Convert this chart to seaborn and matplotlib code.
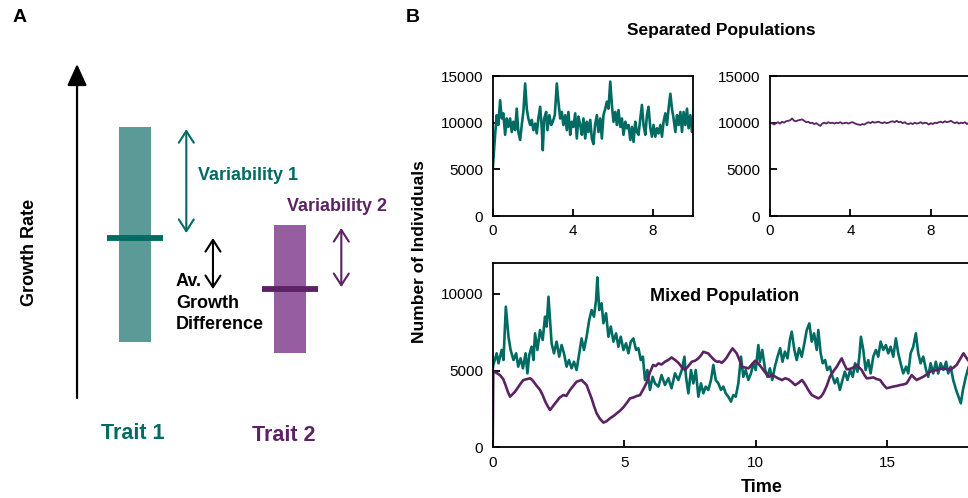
import matplotlib
matplotlib.use("Agg")
import matplotlib.pyplot as plt
import seaborn as sns
import pandas as pd

# colours
teal_line = "#006b63"
teal_bar = "#5a9b97"
purple_line = "#5b2264"
purple_bar = "#965da1"

# ---- panel A: schematic growth-rate distributions (arbitrary units 0-10)
trait_labels = ["Trait 1", "Trait 2"]
trait_mean = [4.79, 3.26]
trait_low = [1.68, 1.35]
trait_high = [8.11, 5.18]
var_top = [8.05, 5.09]
var_bottom = [4.94, 3.32]

# ---- panel B: separated populations (time, number of individuals)
tl_t = [0.0, 0.05, 0.12, 0.2, 0.28, 0.37, 0.45, 0.53, 0.62, 0.7, 0.78, 0.87, 0.95,
        1.03, 1.12, 1.2, 1.28, 1.37, 1.45, 1.53, 1.62, 1.7, 1.78, 1.87, 1.95,
        2.03, 2.12, 2.2, 2.28, 2.37, 2.45, 2.5, 2.57, 2.67, 2.73, 2.83, 2.92,
        3.0, 3.1, 3.2, 3.28, 3.37, 3.45, 3.53, 3.62, 3.7, 3.78, 3.87, 3.95,
        4.03, 4.12, 4.2, 4.28, 4.37, 4.45, 4.53, 4.62, 4.7, 4.78, 4.87, 4.95,
        5.03, 5.11, 5.2, 5.28, 5.37, 5.45, 5.53, 5.62, 5.7, 5.78, 5.87, 5.95,
        6.03, 6.12, 6.2, 6.28, 6.37, 6.45, 6.53, 6.62, 6.7, 6.78, 6.87, 6.95,
        7.03, 7.12, 7.2, 7.28, 7.37, 7.45, 7.53, 7.62, 7.7, 7.78, 7.87, 7.95,
        8.03, 8.12, 8.2, 8.28, 8.37, 8.45, 8.53, 8.62, 8.7, 8.78, 8.87, 8.95,
        9.03, 9.12, 9.2, 9.28, 9.37, 9.45, 9.53, 9.62, 9.7, 9.78, 9.87, 9.95, 10.0]
tl_n = [5000, 6500, 8700, 10800, 9750, 12400, 10450, 11000, 8700, 10450, 9550, 10450, 9000,
        10100, 9200, 11500, 9000, 8150, 9750, 11150, 14200, 11500, 10450, 9750, 10300,
        9200, 9900, 8850, 10450, 11700, 9400, 7050, 10450, 11150, 9200, 10800, 9750,
        10100, 10800, 14200, 12250, 10450, 11150, 9750, 10800, 9200, 11150, 8700, 10100,
        9550, 11000, 8300, 10650, 9750, 8700, 10450, 8300, 10100, 9000, 10300, 8300,
        7700, 9750, 10800, 9000, 10450, 8300, 10800, 11500, 12250, 11500, 14400, 11900,
        10100, 11150, 9750, 11350, 9550, 10450, 8700, 10100, 9400, 9750, 8150, 9550,
        7950, 10100, 9000, 8700, 10450, 11900, 9750, 8700, 10800, 11700, 9400, 8500,
        9750, 8500, 9400, 8850, 9750, 8500, 10100, 11000, 9750, 11500, 13100, 11500,
        10450, 9000, 10800, 9750, 11150, 9000, 11150, 9750, 11500, 9400, 10800, 9000, 9500]

tr_t = [i / 10 for i in range(101)]
tr_n = [9900, 9950, 9800, 9950, 10050, 9900, 10100, 10000, 10150, 10200,
        10250, 10450, 10200, 10150, 10250, 10300, 10350, 10200, 10050, 10100,
        9950, 10000, 9850, 9950, 9800, 9650, 9900, 10000, 9900, 10050,
        9950, 10000, 9900, 10000, 9950, 10050, 9900, 9950, 10000, 9900,
        10000, 10050, 9950, 9850, 9800, 9750, 9850, 9800, 9950, 10050,
        9950, 10100, 10000, 10050, 10100, 10000, 9950, 10050, 9950, 10000,
        10100, 10150, 10050, 10200, 10050, 10100, 9950, 10050, 9900, 9850,
        9950, 9850, 10000, 9900, 9950, 10050, 9900, 10000, 9950, 9800,
        9950, 9850, 10000, 9950, 10050, 10100, 10000, 10150, 10050, 10100,
        10200, 10050, 9950, 10050, 9900, 10000, 9950, 10050, 9850, 10000, 9900]

# ---- panel B: mixed population
bt_t = [0.0, 0.02, 0.08, 0.15, 0.22, 0.34, 0.41, 0.5, 0.6, 0.68, 0.79, 0.89, 0.97,
        1.06, 1.15, 1.25, 1.32, 1.39, 1.48, 1.55, 1.61, 1.7, 1.8, 1.9, 1.99,
        2.05, 2.12, 2.18, 2.24, 2.33, 2.43, 2.53, 2.62, 2.71, 2.81, 2.9, 3.0,
        3.09, 3.19, 3.29, 3.38, 3.47, 3.57, 3.67, 3.76, 3.85, 3.93, 3.98, 4.05,
        4.14, 4.21, 4.31, 4.4, 4.49, 4.59, 4.69, 4.78, 4.87, 4.97, 5.07, 5.16,
        5.25, 5.35, 5.45, 5.54, 5.63, 5.71, 5.79, 5.88, 5.98, 6.08, 6.17, 6.3,
        6.42, 6.55, 6.68, 6.8, 6.93, 7.06, 7.19, 7.29, 7.35, 7.44, 7.54, 7.63,
        7.72, 7.82, 7.92, 8.01, 8.1, 8.2, 8.3, 8.39, 8.48, 8.58, 8.68, 8.77,
        8.86, 8.96, 9.06, 9.15, 9.24, 9.34, 9.44, 9.53, 9.62, 9.72, 9.82, 9.91,
        10.0, 10.1, 10.16, 10.25, 10.36, 10.45, 10.54, 10.63, 10.73, 10.83, 10.93, 11.02,
        11.11, 11.21, 11.3, 11.37, 11.47, 11.56, 11.65, 11.75, 11.85, 11.94, 12.04, 12.13,
        12.22, 12.32, 12.38, 12.47, 12.55, 12.64, 12.72, 12.82, 12.92, 13.01, 13.1, 13.2,
        13.3, 13.39, 13.49, 13.59, 13.69, 13.78, 13.87, 13.94, 14.0, 14.09, 14.18, 14.28,
        14.37, 14.47, 14.57, 14.66, 14.75, 14.85, 14.95, 15.04, 15.13, 15.23, 15.33, 15.42,
        15.51, 15.61, 15.72, 15.8, 15.89, 15.99, 16.09, 16.18, 16.27, 16.37, 16.48, 16.56,
        16.65, 16.75, 16.85, 16.94, 17.03, 17.14, 17.24, 17.32, 17.41, 17.51, 17.62, 17.71,
        17.8, 17.88, 17.99, 18.1, 18.25]
bt_n = [5000, 5370, 5700, 6130, 5480, 6350, 5690, 9170, 7210, 6350, 5690, 6130, 5260,
        5800, 5150, 6130, 4820, 6020, 6560, 5690, 7430, 6350, 7650, 7000, 8520,
        7870, 9820, 8300, 6780, 6130, 6890, 5910, 6670, 6130, 5260, 5690, 5150,
        5580, 5040, 6130, 7100, 6350, 7210, 8300, 8950, 8520, 9600, 11080, 8950,
        9390, 8090, 8740, 7210, 7870, 6890, 7430, 6560, 7210, 6350, 6780, 6130,
        6890, 7100, 6350, 6460, 5690, 5910, 4390, 5040, 3740, 4600, 4170, 3960,
        4710, 4060, 4500, 3850, 4820, 4390, 5040, 5910, 4600, 3520, 5040, 4170,
        5040, 3300, 4170, 3520, 3960, 3740, 4390, 5370, 4390, 4170, 3740, 3960,
        3520, 3300, 2980, 3410, 3300, 4170, 5910, 4600, 5040, 4390, 4820, 5480,
        5040, 6670, 5580, 6350, 5040, 4600, 5150, 4390, 5260, 5910, 6460, 5580,
        6240, 5800, 7000, 7540, 6350, 5690, 6460, 5910, 6780, 7650, 8080, 6890,
        7430, 6350, 7650, 6130, 5480, 5690, 5040, 5260, 4600, 4170, 4500, 3740,
        4390, 4930, 4390, 5040, 4600, 5480, 4930, 5910, 7210, 6350, 5040, 5690,
        4820, 5910, 6350, 5910, 6890, 6350, 6670, 6130, 6560, 5910, 7100, 6130,
        5480, 4820, 5260, 4820, 6130, 6560, 7430, 6130, 5480, 5910, 5040, 4600,
        5480, 4820, 5580, 4820, 5480, 5040, 5580, 4820, 5260, 4390, 3740, 3300,
        2870, 3740, 4600, 5260, 5000]

bp_t = [0.0, 0.02, 0.15, 0.28, 0.4, 0.5, 0.58, 0.66, 0.75, 0.85, 1.0, 1.08, 1.17,
        1.3, 1.42, 1.5, 1.6, 1.7, 1.8, 1.9, 2.0, 2.1, 2.18, 2.3, 2.43, 2.55,
        2.69, 2.8, 2.94, 3.06, 3.19, 3.38, 3.57, 3.66, 3.76, 3.85, 3.95, 4.08,
        4.21, 4.33, 4.46, 4.6, 4.72, 4.85, 4.97, 5.1, 5.22, 5.35, 5.48, 5.6,
        5.73, 5.85, 5.98, 6.1, 6.2, 6.3, 6.42, 6.55, 6.68, 6.8, 6.93, 7.06,
        7.18, 7.31, 7.44, 7.57, 7.7, 7.82, 7.92, 8.01, 8.2, 8.33, 8.42, 8.52,
        8.61, 8.71, 8.8, 8.9, 9.0, 9.12, 9.28, 9.38, 9.47, 9.6, 9.73, 9.85,
        9.98, 10.1, 10.2, 10.35, 10.5, 10.6, 10.7, 10.85, 11.0, 11.12, 11.25, 11.38,
        11.5, 11.63, 11.76, 11.88, 12.0, 12.13, 12.25, 12.38, 12.48, 12.57, 12.7, 12.82,
        12.95, 13.08, 13.18, 13.27, 13.37, 13.46, 13.55, 13.65, 13.75, 13.84, 13.94, 14.03,
        14.12, 14.22, 14.35, 14.47, 14.6, 14.73, 14.85, 14.98, 15.1, 15.23, 15.36, 15.49,
        15.62, 15.74, 15.84, 15.93, 16.02, 16.12, 16.25, 16.37, 16.5, 16.63, 16.75, 16.88,
        17.01, 17.14, 17.26, 17.39, 17.52, 17.64, 17.77, 17.9, 18.07, 18.3]
bp_n = [0, 4950, 4850, 4700, 4450, 4000, 3600, 3300, 3450, 3630, 4000, 4200, 4390,
        4450, 4500, 4400, 4170, 3950, 3740, 3400, 2980, 2650, 2430, 2700, 2980, 3250,
        3410, 3350, 3740, 4000, 4280, 4390, 4060, 3650, 3190, 2700, 2220, 1850,
        1610, 1700, 1890, 2050, 2220, 2400, 2610, 2900, 3190, 3250, 3350, 3400,
        3800, 4200, 4900, 5370, 5300, 5470, 5400, 5580, 5700, 5860, 5700, 5510,
        5250, 5040, 5300, 5580, 5650, 5800, 6000, 6230, 6120, 5860, 5700, 5580,
        5600, 5510, 5650, 5860, 6150, 6450, 6120, 5700, 5250, 5200, 5150, 5400,
        5650, 5450, 5250, 4900, 4600, 4700, 4650, 4500, 4390, 4500, 4430, 4250,
        4060, 4200, 4390, 4100, 3740, 3410, 3300, 3190, 3300, 3520, 4000, 4600,
        4950, 5250, 5550, 5800, 5400, 5090, 5100, 5150, 5250, 5370, 5200, 5040,
        4750, 4500, 4520, 4560, 4450, 4390, 4100, 3850, 3900, 3960, 4000, 4060,
        4100, 4170, 4450, 4710, 4550, 4390, 4500, 4600, 4750, 4930, 5000, 5040,
        5100, 5150, 5100, 5040, 5200, 5370, 5750, 6130, 5690, 5300]

sns.set_theme(style="ticks")
plt.rcParams["font.family"] = ["Liberation Sans", "DejaVu Sans"]
plt.rcParams["axes.linewidth"] = 1.3
plt.rcParams["axes.edgecolor"] = "black"
plt.rcParams["text.color"] = "black"
plt.rcParams["axes.labelcolor"] = "black"

W, H = 968, 498
fig = plt.figure(figsize=(W / 100, H / 100), dpi=100)


def box(l, t, r, b):
    return [l / W, 1 - b / H, (r - l) / W, (b - t) / H]


def ftext(px, py, s, **kw):
    fig.text(px / W, 1 - py / H, s, **kw)


# ================= Panel A =================
ax_a = fig.add_axes(box(0, 0, 400, 498))
ax_a.set_xlim(-135 / 155, 265 / 155)
ax_a.set_ylim(-100 / 33.4, 398 / 33.4)
ax_a.axis("off")

bar_cols = [teal_bar, purple_bar]
line_cols = [teal_line, purple_line]
for i in range(2):
    ax_a.bar(i, trait_high[i] - trait_low[i], bottom=trait_low[i], width=0.206,
             color=bar_cols[i], edgecolor="none")
    ax_a.plot([i - 0.18, i + 0.18], [trait_mean[i], trait_mean[i]],
              color=line_cols[i], lw=4.2, solid_capstyle="butt")
    ax_a.annotate("", xy=(i + 0.331, var_top[i]), xytext=(i + 0.331, var_bottom[i]),
                  arrowprops=dict(arrowstyle="<->,head_length=0.7,head_width=0.45",
                                  color=line_cols[i], lw=1.5, shrinkA=0, shrinkB=0))

# growth difference arrow between the two means
ax_a.annotate("", xy=(0.503, trait_mean[0]), xytext=(0.503, trait_mean[1]),
              arrowprops=dict(arrowstyle="<->,head_length=0.7,head_width=0.45",
                              color="black", lw=1.5, shrinkA=0, shrinkB=0))
# growth-rate axis arrow
ax_a.annotate("", xy=(-0.374, 10.0), xytext=(-0.374, 0.0),
              arrowprops=dict(arrowstyle="-|>,head_length=1.1,head_width=0.5",
                              color="black", lw=1.6, shrinkA=0, shrinkB=0))

ftext(20, 17, "A", fontsize=14, fontweight="bold", ha="center", va="center")
ftext(29, 252, "Growth Rate", fontsize=13, fontweight="bold", rotation=90,
      ha="center", va="center")
ftext(198, 176, "Variability 1", fontsize=13, fontweight="bold", color=teal_line,
      ha="left", va="center")
ftext(287, 206, "Variability 2", fontsize=13, fontweight="bold", color=purple_line,
      ha="left", va="center")
ftext(176, 273, "Av.\nGrowth\nDifference", fontsize=13, fontweight="bold",
      ha="left", va="top", linespacing=1.35)
ftext(133, 433, trait_labels[0], fontsize=15.5, fontweight="bold", color=teal_line,
      ha="center", va="center")
ftext(284, 435, trait_labels[1], fontsize=15.5, fontweight="bold", color=purple_line,
      ha="center", va="center")

# ================= Panel B =================
ftext(413, 17, "B", fontsize=14, fontweight="bold", ha="center", va="center")
ftext(721, 31, "Separated Populations", fontsize=12.5, fontweight="bold",
      ha="center", va="center")
ftext(420, 252, "Number of Individuals", fontsize=12.5, fontweight="bold",
      rotation=90, ha="center", va="center")
ftext(762, 487, "Time", fontsize=13, fontweight="bold", ha="center", va="center")


def style(ax, xticks, yticks, xlim, ylim):
    ax.set_xlim(*xlim)
    ax.set_ylim(*ylim)
    ax.set_xticks(xticks)
    ax.set_yticks(yticks)
    ax.tick_params(direction="in", length=5, width=1.3, labelsize=11,
                   pad=6, colors="black")
    ax.tick_params(axis="y", pad=7)
    for sp in ax.spines.values():
        sp.set_visible(True)
        sp.set_linewidth(1.3)
        sp.set_color("black")
    ax.set_xlabel("")
    ax.set_ylabel("")


ax_tl = fig.add_axes(box(492.7, 76, 693, 216))
sns.lineplot(x=tl_t, y=tl_n, ax=ax_tl, color=teal_line, linewidth=1.9,
             estimator=None, sort=False)
style(ax_tl, [0, 4, 8], [0, 5000, 10000, 15000], (0, 10), (0, 15000))

ax_tr = fig.add_axes(box(770, 76, 971, 216))
sns.lineplot(x=tr_t, y=tr_n, ax=ax_tr, color=purple_line, linewidth=1.3,
             estimator=None, sort=False)
style(ax_tr, [0, 4, 8], [0, 5000, 10000, 15000], (0, 10), (0, 15000))

ax_b = fig.add_axes(box(492.7, 263.3, 1018.7, 447.3))
mixed = pd.concat([
    pd.DataFrame({"time": bt_t, "count": bt_n, "trait": "Trait 1"}),
    pd.DataFrame({"time": bp_t, "count": bp_n, "trait": "Trait 2"}),
])
sns.lineplot(data=mixed, x="time", y="count", hue="trait", ax=ax_b,
             palette={"Trait 1": teal_line, "Trait 2": purple_line},
             linewidth=1.9, estimator=None, sort=False, legend=False)
style(ax_b, [0, 5, 10, 15], [0, 5000, 10000], (0, 20), (0, 12000))
ax_b.text(0.44, 0.82, "Mixed Population", transform=ax_b.transAxes, fontsize=13,
          fontweight="bold", ha="center", va="center")

fig.savefig("out.png", dpi=100)
